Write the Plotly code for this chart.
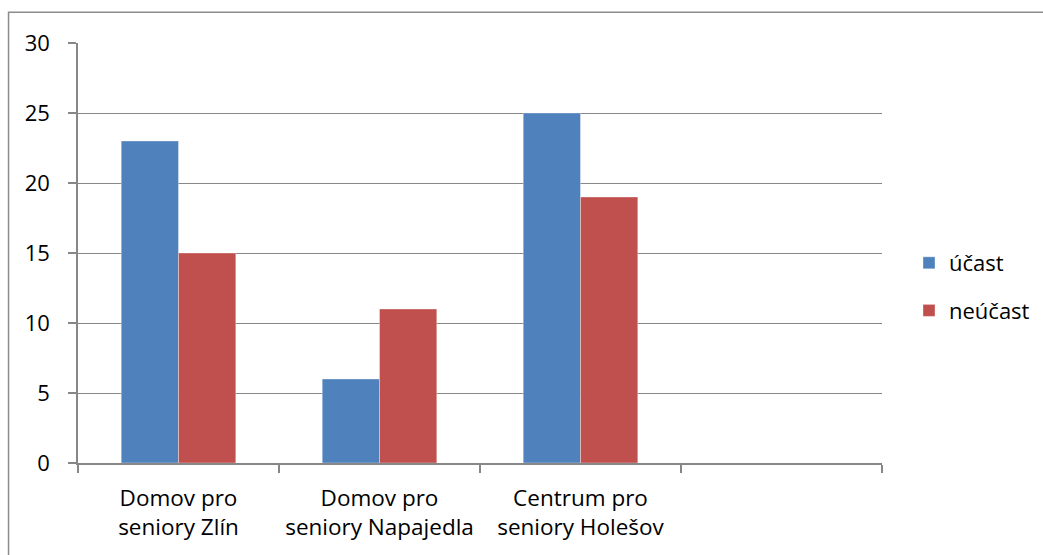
import plotly.graph_objects as go

# Category labels (two lines each); the fourth category is empty
categories = ["Domov pro<br>seniory Zlín", "Domov pro<br>seniory Napajedla",
              "Centrum pro<br>seniory Holešov", " "]
ucast = [23, 6, 25, None]
neucast = [15, 11, 19, None]
series_names = ["účast", "neúčast"]
y_ticks = [0, 5, 10, 15, 20, 25, 30]

FONT = "Open Sans"
FS = 23
GRID = "#878787"

fig = go.Figure()
fig.add_trace(go.Bar(
    x=categories, y=ucast, name=series_names[0], legendgroup="a",
    marker=dict(color="#4F81BD", line=dict(color="rgba(255,255,255,0.35)", width=1)),
))
fig.add_trace(go.Bar(
    x=categories, y=neucast, name=series_names[1], legendgroup="b",
    marker=dict(color="#C0504D", line=dict(color="rgba(255,255,255,0.35)", width=1)),
))

W, H = 1043, 555
L, R, T, B = 77.5, 882, 42.7, 462.7

# outer chart-area frame
fig.add_shape(
    type="rect", xref="paper", yref="paper",
    x0=(8 - L) / (R - L), x1=(1100 - L) / (R - L),
    y0=(B - 600) / (B - T), y1=(B - 12) / (B - T),
    line=dict(color="#8c8c8c", width=1.5), fillcolor="rgba(0,0,0,0)", layer="below",
)

fig.update_layout(
    width=W, height=H,
    margin=dict(l=L, r=W - R, t=T, b=H - B, pad=0, autoexpand=False),
    paper_bgcolor="white", plot_bgcolor="white",
    barmode="group", bargap=0.43, bargroupgap=0,
    font=dict(family=FONT, size=FS, color="black"),
    showlegend=True,
    legend=dict(
        xref="container", yref="container",
        x=909 / W, y=1 - 287 / H, xanchor="left", yanchor="middle",
        traceorder="grouped", tracegroupgap=16,
        font=dict(family=FONT, size=FS - 1, color="black"),
        itemwidth=30,
    ),
    xaxis=dict(
        type="category", showgrid=False,
        showline=True, linecolor=GRID, linewidth=1.5,
        ticks="outside", ticklen=8, tickcolor=GRID, tickwidth=1.5,
        tickson="boundaries", tickangle=0,
        tickfont=dict(family=FONT, size=FS - 0.5),
        ticklabelstandoff=14,
        fixedrange=True,
    ),
    yaxis=dict(
        range=[0, 30], tickvals=y_ticks,
        showgrid=True, gridcolor=GRID, gridwidth=1,
        showline=True, linecolor=GRID, linewidth=1.5,
        ticks="outside", ticklen=8, tickcolor=GRID, tickwidth=1.5,
        zeroline=False,
        tickfont=dict(family=FONT, size=FS - 1),
        ticklabelstandoff=14,
        fixedrange=True,
    ),
)

fig.write_html("out.html")
